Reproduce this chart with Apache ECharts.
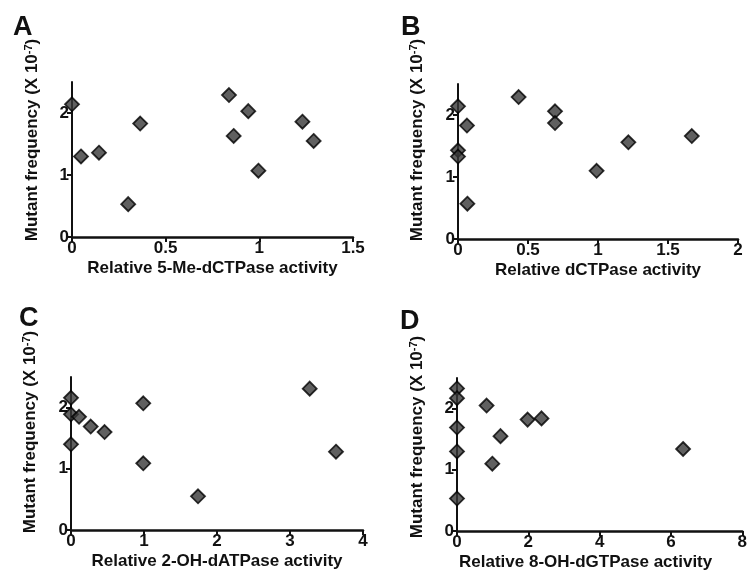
<!DOCTYPE html>
<html>
<head>
<meta charset="utf-8">
<script src="https://cdn.jsdelivr.net/npm/echarts@6/dist/echarts.min.js"></script>
<style>
  html, body { margin: 0; padding: 0; background: #fff; }
  #chart { width: 750px; height: 579px; }
</style>
</head>
<body>
<div id="chart"></div>
<script>
// panel A: 5-Me-dCTPase
const aX = [0, 0.048, 0.144, 0.30, 0.364, 0.838, 0.863, 0.941, 0.995, 1.23, 1.29];
const aY = [2.14, 1.30, 1.36, 0.53, 1.83, 2.29, 1.63, 2.03, 1.07, 1.86, 1.55];
// panel B: dCTPase
const bX = [0, 0.064, 0, 0, 0.067, 0.433, 0.693, 0.693, 0.99, 1.217, 1.67];
const bY = [2.14, 1.83, 1.43, 1.33, 0.57, 2.29, 2.06, 1.87, 1.10, 1.56, 1.66];
// panel C: 2-OH-dATPase
const cX = [0, 0, 0.11, 0.27, 0.46, 0, 0.99, 0.99, 1.74, 3.27, 3.63];
const cY = [2.16, 1.89, 1.85, 1.69, 1.60, 1.40, 2.07, 1.09, 0.55, 2.31, 1.28];
// panel D: 8-OH-dGTPase
const dX = [0, 0, 0, 0, 0, 0.83, 0.99, 1.22, 1.98, 2.37, 6.34];
const dY = [2.33, 2.17, 1.69, 1.30, 0.53, 2.05, 1.10, 1.55, 1.82, 1.84, 1.34];

const panelLetters = ["A", "B", "C", "D"];
const xNames = [
  "Relative 5-Me-dCTPase activity",
  "Relative dCTPase activity",
  "Relative 2-OH-dATPase activity",
  "Relative 8-OH-dGTPase activity"
];
const xMax = [1.5, 2, 4, 8];
const xStep = [0.5, 0.5, 1, 2];
const yTicks = [0, 1, 2];

const FONT = "'Liberation Sans', Arial, Helvetica, sans-serif";
const INK = "#111";

const grids = [
  { left: 72, top: 82, width: 281, height: 155 },
  { left: 458, top: 84, width: 280, height: 155 },
  { left: 71, top: 377, width: 292, height: 153 },
  { left: 457, top: 378, width: 291, height: 153 }
];
const letterPos = [[13, 14], [401, 14], [19, 305], [400, 308]];
const yNamePos = [[32, 140], [417, 140], [30, 432], [417, 437]];

const allX = [aX, bX, cX, dX];
const allY = [aY, bY, cY, dY];

const xAxes = grids.map((g, i) => ({
  type: "value",
  gridIndex: i,
  min: 0,
  max: xMax[i],
  interval: xStep[i],
  name: xNames[i],
  nameLocation: "middle",
  nameGap: 23,
  nameTextStyle: {
    fontFamily: FONT, fontWeight: "bold", fontSize: 17, color: INK,
    padding: i === 3 ? [0, 28, 0, 0] : 0
  },
  axisLine: { show: true, lineStyle: { color: INK, width: 2.5 } },
  axisTick: { show: true, length: 5, lineStyle: { color: INK, width: 2 } },
  axisLabel: {
    fontFamily: FONT, fontWeight: "bold", fontSize: 17, color: INK, margin: 3,
    showMaxLabel: true
  },
  splitLine: { show: false }
}));

const yAxes = grids.map((g, i) => ({
  type: "value",
  gridIndex: i,
  min: 0,
  max: 2.5,
  interval: 1,
  axisLine: { show: true, lineStyle: { color: INK, width: 2 } },
  axisTick: { show: true, length: 5, customValues: yTicks, lineStyle: { color: INK, width: 2 } },
  axisLabel: {
    customValues: yTicks,
    fontFamily: FONT, fontWeight: "bold", fontSize: 17, color: INK, margin: 3
  },
  splitLine: { show: false }
}));

const series = allX.map((xs, i) => ({
  type: "scatter",
  xAxisIndex: i,
  yAxisIndex: i,
  clip: false,
  symbol: "diamond",
  symbolSize: 14,
  itemStyle: { color: "#383838", borderColor: "#000", borderWidth: 1.8 },
  data: xs.map((x, k) => [x, allY[i][k]])
}));

const graphics = [];
panelLetters.forEach((t, i) => {
  graphics.push({
    type: "text",
    left: letterPos[i][0],
    top: letterPos[i][1],
    style: { text: t, font: "bold 27px " + FONT, fill: INK }
  });
  graphics.push({
    type: "text",
    x: yNamePos[i][0],
    y: yNamePos[i][1],
    rotation: Math.PI / 2,
    style: {
      text: "Mutant frequency (X 10{s|-7})",
      x: 0, y: 0,
      align: "center",
      verticalAlign: "middle",
      font: "bold 17px " + FONT,
      fill: INK,
      rich: { s: { fontSize: 11, fontWeight: "bold", fontFamily: FONT, verticalAlign: "top", fill: INK } }
    }
  });
});

const chart = echarts.init(document.getElementById("chart"));
chart.setOption({
  backgroundColor: "#fff",
  animation: false,
  grid: grids,
  xAxis: xAxes,
  yAxis: yAxes,
  series: series,
  graphic: graphics
});
</script>
</body>
</html>
